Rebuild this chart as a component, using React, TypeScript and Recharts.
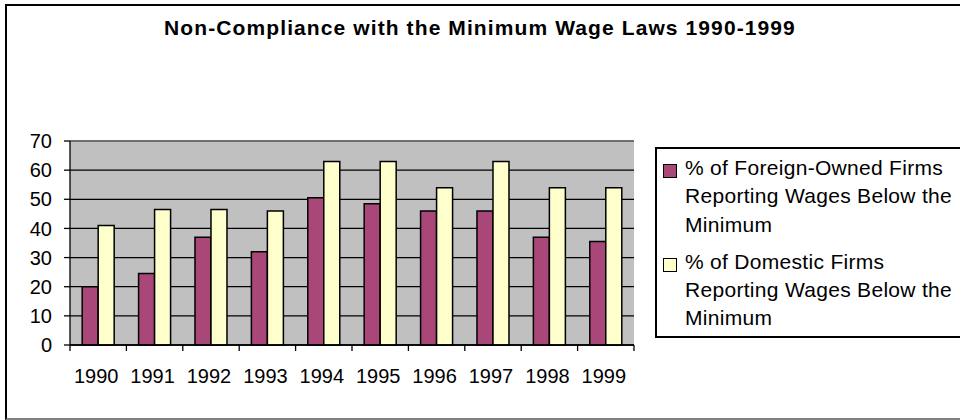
import React from 'react';
import { BarChart, Bar, XAxis, YAxis, CartesianGrid, Legend, ReferenceLine } from 'recharts';

const years = ['1990', '1991', '1992', '1993', '1994', '1995', '1996', '1997', '1998', '1999'];
const foreignOwned = [20, 24.5, 37, 32, 50.5, 48.5, 46, 46, 37, 35.5];
const domestic = [41, 46.5, 46.5, 46, 63, 63, 54, 63, 54, 54];
const yTicks = [0, 10, 20, 30, 40, 50, 60, 70];

const foreignName = '% of Foreign-Owned Firms\nReporting Wages Below the\nMinimum';
const domesticName = '% of Domestic Firms\nReporting Wages Below the\nMinimum';
const seriesOrder = ['foreign', 'domestic'];

const data = years.map((year, i) => ({
  year,
  foreign: foreignOwned[i],
  domestic: domestic[i],
}));

const FONT = 'Arial, "Liberation Sans", sans-serif';

// category label plus a tick mark on the left edge of each band (last one also gets the right edge)
const YearTick = (props: any) => {
  const { x, y, payload, index, visibleTicksCount, width } = props;
  const half = payload.offset ?? width / visibleTicksCount / 2;
  const last = index === visibleTicksCount - 1;
  return (
    <g>
      <line x1={x - half} x2={x - half} y1={y} y2={y + 6} stroke="#000" strokeWidth={1.3} />
      {last && <line x1={x + half} x2={x + half} y1={y} y2={y + 6} stroke="#000" strokeWidth={1.3} />}
      <text x={x - 2} y={y + 38} textAnchor="middle" fill="#000" fontSize={20} fontFamily={FONT}>
        {payload.value}
      </text>
    </g>
  );
};

const LegendBox = (props: any) => {
  const payload = [...(props.payload || [])].sort(
    (a: any, b: any) => seriesOrder.indexOf(a.dataKey) - seriesOrder.indexOf(b.dataKey)
  );
  return (
    <div
      style={{
        boxSizing: 'border-box',
        width: 320,
        height: 191,
        border: '2px solid #000',
        background: '#fff',
        padding: '5px 0 0 6px',
        fontFamily: FONT,
        fontSize: 21,
        letterSpacing: 0.3,
        lineHeight: '28.3px',
        color: '#000',
        textAlign: 'left',
      }}
    >
      {payload.map((entry: any, i: number) => (
        <div key={i} style={{ display: 'flex', alignItems: 'flex-start', marginBottom: 9 }}>
          <span
            style={{
              boxSizing: 'border-box',
              width: 14,
              height: 14,
              marginTop: 10,
              marginRight: 8,
              background: entry.color,
              border: '1.5px solid #000',
              flex: 'none',
            }}
          />
          <span style={{ whiteSpace: 'pre' }}>{entry.value}</span>
        </div>
      ))}
    </div>
  );
};

export default function App() {
  return (
    <div style={{ position: 'absolute', left: 0, top: 0, width: 960, height: 420, background: '#fff', overflow: 'hidden' }}>
      <div
        style={{
          position: 'absolute',
          left: 5,
          top: 4,
          width: 960,
          height: 416,
          boxSizing: 'border-box',
          borderLeft: '2px solid #000',
          borderTop: '2px solid #000',
          borderBottom: '2px solid #808080',
        }}
      />
      <div
        style={{
          position: 'absolute',
          left: 0,
          top: 17,
          width: 960,
          textAlign: 'center',
          fontFamily: FONT,
          fontWeight: 'bold',
          fontSize: 21,
          lineHeight: '21px',
          letterSpacing: 1.1,
          color: '#000',
        }}
      >
        Non-Compliance with the Minimum Wage Laws 1990-1999
      </div>
      <div style={{ position: 'absolute', left: 0, top: 0 }}>
        <BarChart
          width={960}
          height={420}
          data={data}
          margin={{ top: 141, right: 326, left: 0, bottom: 35 }}
          barGap={0}
          barCategoryGap="21.6%"
          style={{ fontFamily: FONT }}
        >
          <CartesianGrid vertical={false} stroke="#000" strokeWidth={1.3} fill="#C0C0C0" fillOpacity={1} />
          <XAxis
            dataKey="year"
            interval={0}
            tickLine={false}
            tickSize={0}
            tickMargin={0}
            height={40}
            axisLine={{ stroke: '#000', strokeWidth: 1.3 }}
            tick={<YearTick />}
          />
          <YAxis
            domain={[0, 70]}
            ticks={yTicks}
            width={70}
            tickSize={6}
            tickMargin={12}
            axisLine={{ stroke: '#000', strokeWidth: 1.3 }}
            tickLine={{ stroke: '#000', strokeWidth: 1.3 }}
            tick={{ fill: '#000', fontSize: 20, fontFamily: FONT }}
          />
          <YAxis
            yAxisId="frame"
            orientation="right"
            width={0}
            tick={false}
            tickLine={false}
            axisLine={{ stroke: '#808080', strokeWidth: 1.5 }}
          />
          <ReferenceLine y={70} stroke="#808080" strokeWidth={1.5} />
          <Legend
            layout="vertical"
            align="center"
            verticalAlign="middle"
            content={<LegendBox />}
            wrapperStyle={{ position: 'absolute', left: 655, top: 147, width: 320, height: 191 }}
          />
          <Bar
            dataKey="foreign"
            name={foreignName}
            fill="#A84778"
            stroke="#000"
            strokeWidth={1.5}
            isAnimationActive={false}
          />
          <Bar
            dataKey="domestic"
            name={domesticName}
            fill="#FFFFCC"
            stroke="#000"
            strokeWidth={1.5}
            isAnimationActive={false}
          />
        </BarChart>
      </div>
    </div>
  );
}
